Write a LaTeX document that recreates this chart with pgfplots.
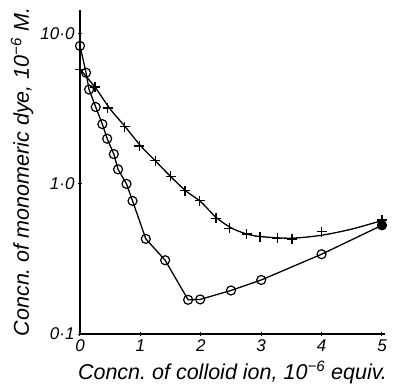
\documentclass[border=0pt]{standalone}
\usepackage{fontspec}
\setmainfont{Liberation Sans}
\usepackage{pgfplots}
\pgfplotsset{compat=1.18}
\frenchspacing
\begin{document}
\begin{tikzpicture}
\begin{axis}[
 scale only axis, width=305pt, height=324pt,
 ymode=log, xmin=0, xmax=5.05, ymin=0.1, ymax=14.4,
 axis lines=left, axis line style={-, line width=1.8pt},
 xtick={0,1,2,3,4,5}, ytick={0.1,1,10}, yticklabels={0·1,1·0,10·0},
 yminorticks=false,
 tick style={line width=1pt, black}, major tick length=4pt,
 ticklabel style={font=\fontsize{17}{17}\selectfont\itshape},
 /pgf/number format/assume math mode=true,
 xlabel={Concn.\ of colloid ion, 10\textsuperscript{−6} equiv.},
 ylabel={Concn.\ of monomeric dye, 10\textsuperscript{−6} M.},
 label style={font=\fontsize{21.5}{24}\selectfont\itshape},
 xlabel style={at={(axis description cs:0.50,-0.118)}, anchor=center},
 ylabel style={at={(axis description cs:-0.19,0.50)}, anchor=center},
 clip=false,
]
% circles series
\addplot[black, line width=1.3pt, mark=o, mark size=4.5pt, mark options={line width=1.2pt}] coordinates {
(0,8.3) (0.1,5.5) (0.15,4.25) (0.26,3.25) (0.37,2.5) (0.45,2.0) (0.56,1.58) (0.63,1.25)
(0.77,1.0) (0.87,0.77) (1.09,0.43) (1.41,0.31) (1.79,0.169) (1.99,0.17) (2.5,0.195)
(3.0,0.229) (4.0,0.34) (5.0,0.53)};
\addplot[black, only marks, mark=*, mark size=4.5pt] coordinates {(5.0,0.53)};
% smooth curve for plus series
\addplot[black, line width=1.3pt, smooth] coordinates {
(0,5.8) (0.25,4.4) (0.5,3.15) (0.75,2.4) (1,1.8) (1.25,1.42) (1.5,1.12) (1.75,0.9)
(2,0.76) (2.25,0.6) (2.5,0.51) (2.75,0.465) (3,0.445) (3.5,0.435) (4,0.455) (4.5,0.5) (5,0.57)};
% plus markers
\addplot[black, only marks, mark=+, mark size=5pt, mark options={line width=1.3pt}] coordinates {
(0,5.75) (0.25,4.41) (0.46,3.2) (0.74,2.41) (0.98,1.79) (1.25,1.43) (1.5,1.12) (1.74,0.9)
(1.98,0.774) (2.25,0.59) (2.47,0.507) (2.76,0.464) (2.98,0.445) (3.27,0.435) (3.51,0.43)
(4.0,0.48) (5.0,0.575)};
\end{axis}
\pgfresetboundingbox
\path ([shift={(-80pt,-52pt)}]current axis.south west) rectangle ([shift={(19pt,10pt)}]current axis.north east);
\end{tikzpicture}
\end{document}
